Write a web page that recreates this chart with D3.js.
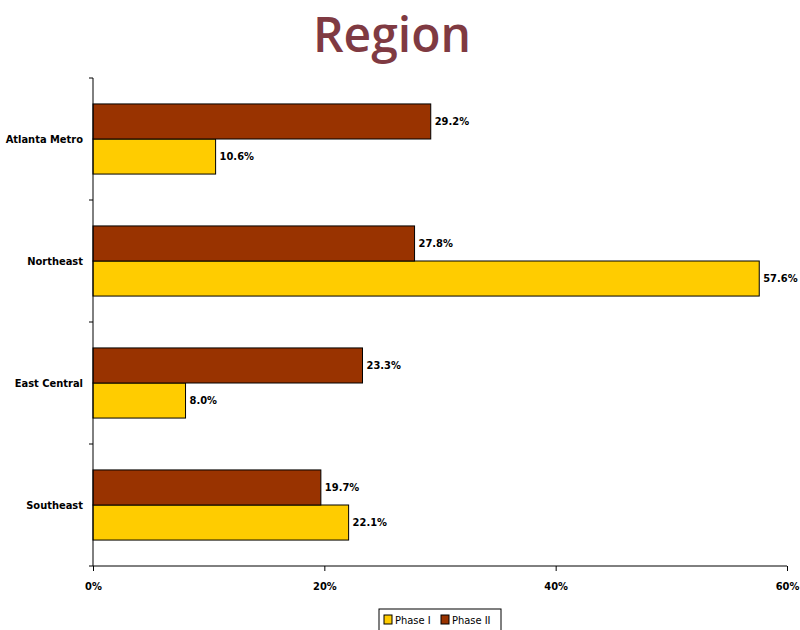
<!DOCTYPE html>
<html>
<head>
<meta charset="utf-8">
<script src="https://cdn.jsdelivr.net/npm/d3@7"></script>
<style>
  html, body { margin: 0; padding: 0; background: #fff; }
  svg { display: block; }
</style>
</head>
<body>
<svg id="chart" width="800" height="630"></svg>
<script>
// Share of respondents by region, two survey phases
const regions = ["Atlanta Metro", "Northeast", "East Central", "Southeast"];
const seriesNames = ["Phase I", "Phase II"];
const phaseI = [10.6, 57.6, 8.0, 22.1];
const phaseII = [29.2, 27.8, 23.3, 19.7];
const xTicks = [0, 20, 40, 60];
const colors = { "Phase I": "#FFCC00", "Phase II": "#993300" };

const svg = d3.select("#chart");
const margin = { left: 93, right: 13, top: 78, bottom: 64 };
const W = 800, H = 630;
const plotBottom = H - margin.bottom;

const x = d3.scaleLinear().domain([0, 60]).range([margin.left, W - margin.right]);
const y = d3.scaleBand().domain(regions).range([margin.top, plotBottom]);
// Phase II sits above Phase I inside each band
const inner = d3.scaleBand().domain(["Phase II", "Phase I"])
  .range([0, y.bandwidth()]).paddingOuter(0.74).paddingInner(0);

const labelFont = "'DejaVu Sans Condensed', 'DejaVu Sans', sans-serif";

// Title
svg.append("text")
  .attr("x", 392).attr("y", 52)
  .attr("text-anchor", "middle")
  .attr("font-family", "'Open Sans', 'Liberation Sans', Arial, sans-serif")
  .attr("font-weight", 600)
  .attr("font-size", 48)
  .attr("fill", "#7F3A42")
  .text("Region");

// Bars
const rows = [];
regions.forEach((r, i) => {
  rows.push({ region: r, series: "Phase I", value: phaseI[i] });
  rows.push({ region: r, series: "Phase II", value: phaseII[i] });
});

svg.append("g").selectAll("rect").data(rows).join("rect")
  .attr("x", x(0))
  .attr("y", d => y(d.region) + inner(d.series))
  .attr("width", d => x(d.value) - x(0))
  .attr("height", inner.bandwidth())
  .attr("fill", d => colors[d.series])
  .attr("stroke", "#000")
  .attr("stroke-width", 1);

// Value labels
svg.append("g").selectAll("text").data(rows).join("text")
  .attr("x", d => x(d.value) + 4)
  .attr("y", d => y(d.region) + inner(d.series) + inner.bandwidth() / 2)
  .attr("dy", "0.35em")
  .attr("font-family", labelFont)
  .attr("font-weight", "bold")
  .attr("font-size", 11)
  .attr("fill", "#000")
  .text(d => d.value.toFixed(1) + "%");

// Y axis (category)
const yAxis = svg.append("g").attr("transform", `translate(${margin.left},0)`);
yAxis.append("line")
  .attr("x1", 0).attr("x2", 0)
  .attr("y1", margin.top).attr("y2", plotBottom)
  .attr("stroke", "#000");
const bandEdges = regions.map(r => y(r)).concat([plotBottom]);
yAxis.selectAll("line.tick").data(bandEdges).join("line")
  .attr("class", "tick")
  .attr("x1", -4).attr("x2", 0)
  .attr("y1", d => d).attr("y2", d => d)
  .attr("stroke", "#000");
yAxis.selectAll("text").data(regions).join("text")
  .attr("x", -10)
  .attr("y", d => y(d) + y.bandwidth() / 2)
  .attr("dy", "0.35em")
  .attr("text-anchor", "end")
  .attr("font-family", labelFont)
  .attr("font-weight", "bold")
  .attr("font-size", 11)
  .text(d => d);

// X axis (percent)
const xAxis = d3.axisBottom(x)
  .tickValues(xTicks)
  .tickFormat(d => d + "%")
  .tickSize(5)
  .tickPadding(11);
const gx = svg.append("g")
  .attr("transform", `translate(0,${plotBottom})`)
  .call(xAxis);
gx.select(".domain").attr("stroke", "#000").attr("d", `M${x(0)},0H${x(60)}`);
gx.selectAll(".tick line").attr("stroke", "#000");
gx.selectAll(".tick text")
  .attr("font-family", labelFont)
  .attr("font-weight", "bold")
  .attr("font-size", 11)
  .attr("fill", "#000");

// Legend
const legend = svg.append("g").attr("transform", "translate(379,609)");
legend.append("rect")
  .attr("x", 0).attr("y", 0).attr("width", 122).attr("height", 26)
  .attr("fill", "#fff").attr("stroke", "#000");
const legendItems = [
  { name: seriesNames[0], sx: 5, tx: 16 },
  { name: seriesNames[1], sx: 62, tx: 73 }
];
legendItems.forEach(it => {
  legend.append("rect")
    .attr("x", it.sx).attr("y", 6).attr("width", 8).attr("height", 9)
    .attr("fill", colors[it.name]).attr("stroke", "#000");
  legend.append("text")
    .attr("x", it.tx).attr("y", 11)
    .attr("dy", "0.35em")
    .attr("font-family", labelFont)
    .attr("font-size", 11)
    .text(it.name);
});
</script>
</body>
</html>
